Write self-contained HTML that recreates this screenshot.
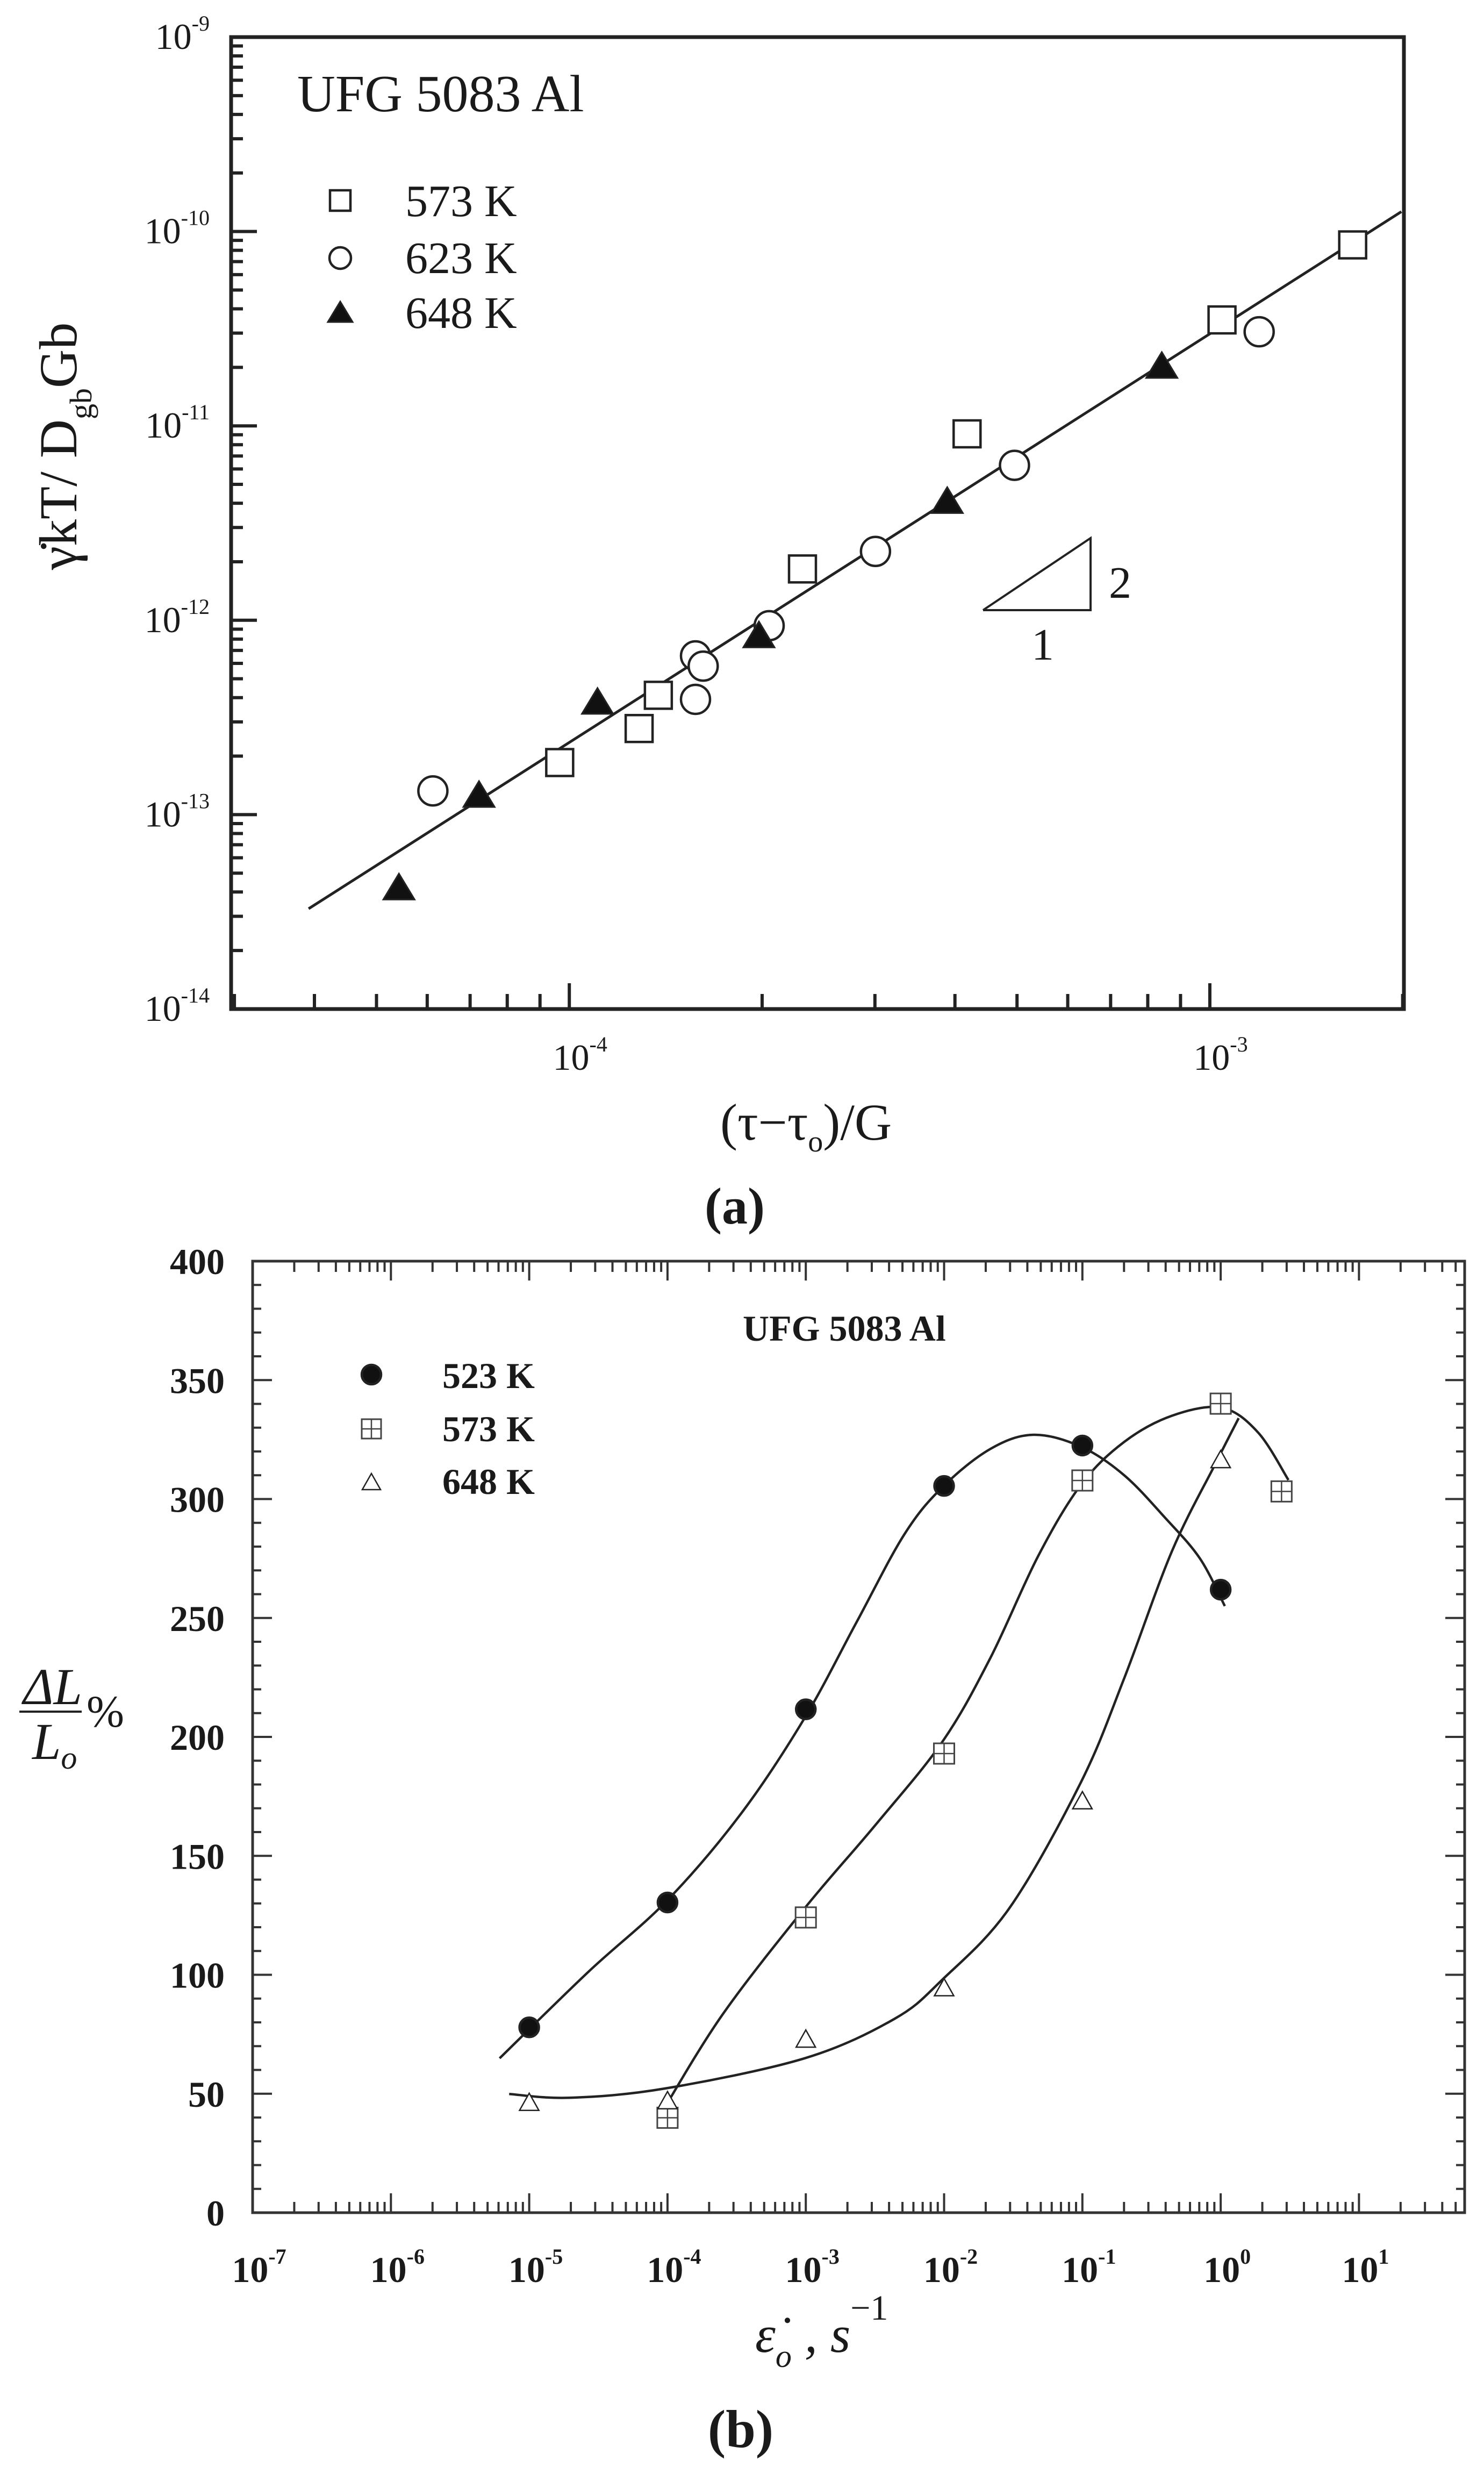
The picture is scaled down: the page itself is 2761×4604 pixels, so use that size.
<!DOCTYPE html>
<html><head><meta charset="utf-8"><style>
html,body{margin:0;padding:0;background:#fff}
svg{display:block}
text{font-family:"Liberation Serif",serif;fill:#1a1a1a}
</style></head><body>
<svg id="fig" width="2761" height="4604" viewBox="0 0 2761 4604" xmlns="http://www.w3.org/2000/svg">
<rect width="2761" height="4604" fill="#fff"/>
<g id="pa"></g>
<g id="pb"></g>
</svg>
<script>
// ---------- Panel (a) data (log10 values) ----------
const aSq573X = [-4.015,-3.891,-3.861,-3.636,-3.379,-2.981,-2.777];
const aSq573Y = [-12.732,-12.557,-12.386,-11.736,-11.041,-10.455,-10.069];
const aCi623X = [-4.213,-3.803,-3.791,-3.803,-3.688,-3.522,-3.305,-2.923];
const aCi623Y = [-12.878,-12.183,-12.236,-12.407,-12.028,-11.646,-11.203,-10.516];
const aTr648X = [-4.266,-4.141,-3.956,-3.704,-3.410,-3.075];
const aTr648Y = [-13.370,-12.894,-12.415,-12.073,-11.382,-10.687];
const aFitX = [-4.407,-2.701];
const aFitY = [-13.484,-9.898];
const aYTicks = [-9,-10,-11,-12,-13,-14];
const aXTicks = [-4,-3];
// ---------- Panel (b) data ----------
const bCatLog = [-5,-4,-3,-2,-1,0];
const b523Y = [77.9,130.4,211.6,305.5,322.5,261.9];
const b573X = [-4,-3,-2,-1,0,0.44];
const b573Y = [39.9,124.1,193.0,307.8,340.1,303.2];
const b648Y = [46.6,47.3,73.2,94.8,173.4,316.8];
const b523CurveX = [-5.214,-4.571,-4.0,-3.465,-3.008,-2.635,-2.289,-2.012,-1.667,-1.355,-1.01,-0.698,-0.4,-0.15,0.03];
const b523CurveY = [64.9,101.3,131.4,168,208,248,285,305,321,327,322,310,292,275,255];
const b573CurveX = [-4.04,-3.603,-3.008,-2.496,-2.012,-1.667,-1.32,-1.01,-0.698,-0.353,0.007,0.27,0.49];
const b573CurveY = [42.3,83.2,128,163,198,233,276,306,324,335,338.4,328,308];
const b648CurveX = [-5.145,-4.71,-4.018,-3.008,-2.358,-2.012,-1.528,-1.01,-0.698,-0.353,-0.041,0.13];
const b648CurveY = [49.9,48.3,52.2,64.9,81.5,98,128,181,224.6,278,314.5,334];
const bYTicks = [0,50,100,150,200,250,300,350,400];
const bXTicks = [-7,-6,-5,-4,-3,-2,-1,0,1];

const NS='http://www.w3.org/2000/svg';
function mk(parent,tag,attrs,txt){const e=document.createElementNS(NS,tag);for(const k in attrs)e.setAttribute(k,attrs[k]);if(txt!==undefined)e.textContent=txt;parent.appendChild(e);return e;}

// ---------- Panel (a) ----------
const pa=document.getElementById('pa');
const aL=430,aR=2612,aT=69,aB=1877;
const aXmin=-4.528,aXmax=-2.697;
const ax=l=>aL+(l-aXmin)/(aXmax-aXmin)*(aR-aL);
const ay=l=>aT+(-9-l)/5*(aB-aT);

let fr=mk(pa,'rect',{x:aL,y:aT,width:aR-aL,height:aB-aT,fill:'none',stroke:'#222','stroke-width':7});


for(let d=-5;d<=-3;d++){for(let m=1;m<=9;m++){const l=d+Math.log10(m);if(l<aXmin||l>aXmax)continue;const X=ax(l);
 const t=mk(pa,'line',{x1:X,y1:aB,x2:X,y2:aB-(m===1?48:28),stroke:'#222','stroke-width':6});
 
 }}
for(let d=-14;d<-9;d++){for(let m=1;m<=9;m++){const l=d+Math.log10(m);const Y=ay(l);
 const t=mk(pa,'line',{x1:aL,y1:Y,x2:aL+(m===1?48:22),y2:Y,stroke:'#222','stroke-width':6});
 
 }}
aYTicks.forEach(p=>{const t=mk(pa,'text',{x:390,y:ay(p)+22,'text-anchor':'end','font-size':68});
 
 
 t.innerHTML='10<tspan dy="-34" font-size="40">'+p+'</tspan>';});
aXTicks.forEach(p=>{const t=mk(pa,'text',{x:ax(p)+20,y:1990,'text-anchor':'middle','font-size':68});
 
 
 t.innerHTML='10<tspan dy="-34" font-size="40">'+p+'</tspan>';});
let fl=mk(pa,'line',{x1:ax(aFitX[0]),y1:ay(aFitY[0]),x2:ax(aFitX[1]),y2:ay(aFitY[1]),stroke:'#222','stroke-width':5});


function sq(g,x,y,s,name){const e=mk(g,'rect',{x:x-s/2,y:y-s/2,width:s,height:s,fill:'#fff',stroke:'#222','stroke-width':4.5});return e;}
function ci(g,x,y,r,name,fill){const e=mk(g,'circle',{cx:x,cy:y,r:r,fill:fill||'#fff',stroke:'#222','stroke-width':4.5});return e;}
function tr(g,x,y,w,h,name,fill,sw){const e=mk(g,'polygon',{points:`${x-w/2},${y+h/2} ${x+w/2},${y+h/2} ${x},${y-h/2}`,fill:fill,stroke:'#222','stroke-width':sw||3,'stroke-linejoin':'miter'});return e;}
aSq573X.forEach((v,i)=>sq(pa,ax(v),ay(aSq573Y[i]),50,'point-573k'));
aCi623X.forEach((v,i)=>ci(pa,ax(v),ay(aCi623Y[i]),27,'point-623k'));
aTr648X.forEach((v,i)=>tr(pa,ax(v),ay(aTr648Y[i]),58,48,'point-648k','#111'));
let tt=mk(pa,'text',{x:553,y:207,'font-size':98},'UFG 5083 Al');


sq(pa,633,373,38,'legend-marker-573k');
ci(pa,633,480,20,'legend-marker-623k');
tr(pa,633,580,46,38,'legend-marker-648k','#111');
[['573 K',402],['623 K',508],['648 K',610]].forEach(([s,y])=>{const t=mk(pa,'text',{x:754,y:y,'font-size':84},s);
 
 });
let st=mk(pa,'polyline',{points:'1829,1135 2029,1135 2029,1001 1829,1135',fill:'none',stroke:'#222','stroke-width':4});


let s2=mk(pa,'text',{x:2063,y:1112,'font-size':84},'2');


let s1=mk(pa,'text',{x:1940,y:1227,'text-anchor':'middle','font-size':84},'1');


let xt=mk(pa,'text',{x:1340,y:2120,'font-size':96});


xt.innerHTML='(τ−τ<tspan dy="22" font-size="56">o</tspan><tspan dy="-22">)/G</tspan>';
let yt=mk(pa,'text',{x:0,y:0,'font-size':100,'text-anchor':'middle',transform:'translate(142,830) rotate(-90)'});


yt.innerHTML='γ̇kT/ D<tspan dy="28" font-size="58">gb</tspan><tspan dy="-28">Gb</tspan>';
let la=mk(pa,'text',{x:1367,y:2276,'text-anchor':'middle','font-size':96,'font-weight':'bold'},'(a)');



// ---------- Panel (b) ----------
const pb=document.getElementById('pb');
const bL=470,bR=2725,bT=2346,bB=4116;
const bx=l=>470+(l+7)*257.3;
const by=v=>bB-v*(bB-bT)/400;
let fb=mk(pb,'rect',{x:bL,y:bT,width:bR-bL,height:bB-bT,fill:'none',stroke:'#333','stroke-width':5});


for(let d=-8;d<=1;d++){for(let m=1;m<=9;m++){const l=d+Math.log10(m);const X=bx(l);if(X<bL||X>bR)continue;const len=m===1?36:20;
 const t1=mk(pb,'line',{x1:X,y1:bB,x2:X,y2:bB-len,stroke:'#333','stroke-width':4});
 
 
 const t2=mk(pb,'line',{x1:X,y1:bT,x2:X,y2:bT+len,stroke:'#333','stroke-width':4});
 
 }}
for(let v=0;v<=400;v+=10){const Y=by(v);const len=v%50===0?36:16;
 const t1=mk(pb,'line',{x1:bL,y1:Y,x2:bL+len,y2:Y,stroke:'#333','stroke-width':4});
 
 
 const t2=mk(pb,'line',{x1:bR,y1:Y,x2:bR-len,y2:Y,stroke:'#333','stroke-width':4});
 
 }
bYTicks.forEach(v=>{const t=mk(pb,'text',{x:418,y:by(v)+24,'text-anchor':'end','font-size':68,'font-weight':'bold'},String(v));
 
 });
bXTicks.forEach(p=>{const t=mk(pb,'text',{x:bx(p)+12,y:4245,'text-anchor':'middle','font-size':68,'font-weight':'bold'});
 
 
 t.innerHTML='10<tspan dy="-34" font-size="40">'+p+'</tspan>';});
function curve(xs,ys,name){const P=xs.map((v,i)=>[bx(v),by(ys[i])]);let d='M'+P[0][0]+','+P[0][1];
 for(let i=0;i<P.length-1;i++){const p0=P[Math.max(0,i-1)],p1=P[i],p2=P[i+1],p3=P[Math.min(P.length-1,i+2)];
  d+=` C${p1[0]+(p2[0]-p0[0])/6},${p1[1]+(p2[1]-p0[1])/6} ${p2[0]-(p3[0]-p1[0])/6},${p2[1]-(p3[1]-p1[1])/6} ${p2[0]},${p2[1]}`;}
 const e=mk(pb,'path',{d:d,fill:'none',stroke:'#222','stroke-width':4.5});
 
 }
curve(b523CurveX,b523CurveY,'curve-523k');
curve(b573CurveX,b573CurveY,'curve-573k');
curve(b648CurveX,b648CurveY,'curve-648k');
function gridSq(x,y,s,name){const g=mk(pb,'g',{});
 mk(g,'rect',{x:x-s/2,y:y-s/2,width:s,height:s,fill:'#fff',stroke:'#444','stroke-width':3});
 mk(g,'line',{x1:x,y1:y-s/2,x2:x,y2:y+s/2,stroke:'#444','stroke-width':2.5});
 mk(g,'line',{x1:x-s/2,y1:y,x2:x+s/2,y2:y,stroke:'#444','stroke-width':2.5});}
bCatLog.forEach((l,i)=>ci(pb,bx(l),by(b523Y[i]),18,'point-523k','#111'));
b573X.forEach((l,i)=>gridSq(bx(l),by(b573Y[i]),38,'point-573k-b'));
bCatLog.forEach((l,i)=>tr(pb,bx(l),by(b648Y[i]),36,32,'point-648k-b','#fff',2.5));
let tb=mk(pb,'text',{x:1382,y:2494,'font-size':68,'font-weight':'bold'},'UFG 5083 Al');


ci(pb,691,2557,18,'legend-marker-523k','#111');
gridSq(691,2658,36,'legend-marker-573k-b');
tr(pb,691,2756,34,30,'legend-marker-648k-b','#fff',2.5);
[['523 K',2582],['573 K',2681],['648 K',2779]].forEach(([s,y])=>{const t=mk(pb,'text',{x:823,y:y,'font-size':68,'font-weight':'bold'},s);
 
 });
let yb1=mk(pb,'text',{x:98,y:3170,'text-anchor':'middle','font-size':96,'font-style':'italic'},'ΔL');


let ybl=mk(pb,'line',{x1:36,y1:3184,x2:152,y2:3184,stroke:'#222','stroke-width':4});


let yb2=mk(pb,'text',{x:60,y:3272,'font-size':96,'font-style':'italic'});


yb2.innerHTML='L<tspan dy="18" font-size="60">o</tspan>';
let yb3=mk(pb,'text',{x:196,y:3212,'text-anchor':'middle','font-size':84},'%');


let xb=mk(pb,'text',{x:1405,y:4375,'font-size':96,'font-style':'italic'});


xb.innerHTML='ε̇<tspan dy="28" font-size="60">o</tspan><tspan dy="-28"> ,  s</tspan><tspan dy="-60" font-size="66" font-style="normal">−1</tspan>';
let lb=mk(pb,'text',{x:1378,y:4552,'text-anchor':'middle','font-size':100,'font-weight':'bold'},'(b)');


</script>
</body></html>
